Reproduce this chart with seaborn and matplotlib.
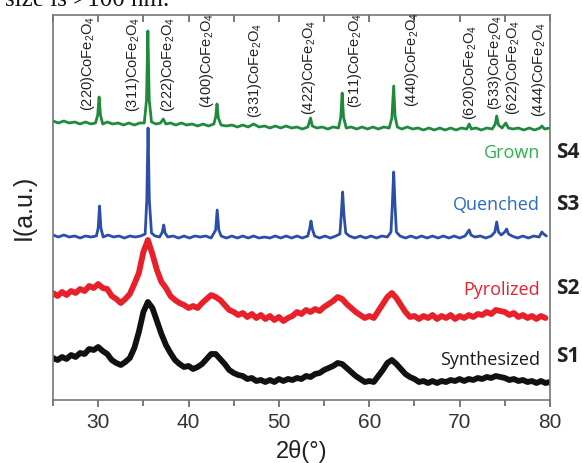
import numpy as np
import pandas as pd
import matplotlib
matplotlib.use("Agg")
import matplotlib.pyplot as plt
from matplotlib.ticker import MultipleLocator
import seaborn as sns

# ---------------- data (intensity in a.u., stacked) ----------------
step_x = np.arange(25.0, 80.01, 0.5)

synth_y = [42, 40, 43, 41, 45, 43, 47, 46, 51, 50, 53, 49, 46, 40, 37, 35, 38, 42, 52, 68,
           88, 98, 92, 79, 66, 55, 47, 40, 36, 33, 34, 31, 33, 36, 41, 46, 46, 41, 36, 30,
           27, 25, 24, 21, 22, 19, 20, 18, 20, 18, 21, 19, 21, 20, 22, 21, 24, 23, 26, 27,
           30, 32, 34, 37, 36, 32, 28, 24, 21, 18, 19, 18, 24, 30, 37, 40, 36, 31, 26, 23,
           21, 18, 19, 17, 19, 17, 19, 18, 20, 19, 21, 19, 21, 20, 22, 21, 23, 22, 24, 23,
           22, 20, 21, 19, 20, 18, 19, 17, 19, 17, 18]

pyro_y = [107, 104, 108, 105, 109, 107, 111, 109, 114, 112, 116, 112, 111, 104, 101, 97, 101, 106, 116, 127,
          148, 160, 146, 130, 118, 112, 104, 100, 97, 95, 92, 94, 92, 97, 101, 105, 103, 100, 95, 90,
          88, 85, 87, 83, 86, 82, 85, 81, 84, 80, 83, 79, 82, 84, 88, 86, 90, 88, 91, 89,
          93, 96, 99, 103, 101, 96, 92, 88, 85, 82, 84, 82, 89, 96, 103, 107, 102, 95, 88, 83,
          84, 81, 84, 82, 85, 81, 84, 82, 85, 81, 84, 82, 85, 83, 86, 85, 88, 86, 90, 89,
          88, 85, 87, 83, 85, 82, 84, 81, 84, 82]

quench_x = [25.0, 25.6, 26.2, 26.8, 27.4, 28.0, 28.6, 29.2, 29.8, 30.0, 30.15, 30.3, 30.55, 31.1, 31.7,
            32.3, 32.9, 33.5, 34.1, 34.7, 35.2, 35.38, 35.52, 35.66, 35.9, 36.3, 36.8, 37.1, 37.25, 37.4,
            37.7, 38.3, 38.9, 39.5, 40.1, 40.7, 41.3, 41.9, 42.5, 43.0, 43.17, 43.35, 43.6, 44.2, 44.8,
            45.4, 46.0, 46.6, 47.2, 47.8, 48.4, 49.0, 49.6, 50.2, 50.8, 51.4, 52.0, 52.6, 53.2, 53.42,
            53.55, 53.7, 53.95, 54.5, 55.1, 55.7, 56.3, 56.75, 56.9, 57.05, 57.2, 57.4, 57.8, 58.4, 59.0,
            59.6, 60.2, 60.8, 61.4, 62.0, 62.4, 62.55, 62.7, 62.85, 63.0, 63.4, 64.0, 64.6, 65.2, 65.8,
            66.4, 67.0, 67.6, 68.2, 68.8, 69.4, 70.0, 70.6, 70.9, 71.05, 71.25, 71.7, 72.3, 72.9, 73.5,
            73.9, 74.1, 74.3, 74.6, 75.0, 75.2, 75.4, 75.8, 76.4, 77.0, 77.6, 78.2, 78.8, 79.1, 79.3,
            79.6]
quench_y = [165, 163, 165, 163, 164, 162, 164, 163, 164, 172, 194, 172, 163, 165, 163,
            164, 162, 164, 163, 164, 166, 200, 272, 200, 167, 164, 163, 168, 175, 167,
            163, 164, 162, 164, 162, 164, 163, 164, 162, 170, 190, 170, 164, 162, 164,
            162, 164, 162, 164, 162, 163, 162, 164, 162, 164, 162, 164, 162, 164, 172,
            179, 171, 164, 162, 164, 162, 164, 166, 185, 208, 185, 167, 164, 162, 164,
            162, 164, 162, 164, 163, 168, 195, 228, 195, 168, 164, 162, 164, 162, 164,
            162, 164, 162, 164, 162, 164, 162, 164, 168, 170, 165, 163, 164, 162, 164,
            168, 178, 168, 165, 168, 171, 166, 164, 162, 164, 162, 164, 163, 168, 166,
            164]

grown_x = [25.0, 25.6, 26.2, 26.8, 27.4, 28.0, 28.6, 29.2, 29.7, 29.95, 30.1, 30.25, 30.5, 31.0, 31.6,
           32.2, 32.8, 33.4, 34.0, 34.6, 35.1, 35.35, 35.5, 35.65, 35.9, 36.4, 36.9, 37.2, 37.5, 38.0,
           38.6, 39.2, 39.8, 40.4, 41.0, 41.6, 42.2, 42.8, 43.0, 43.15, 43.3, 43.6, 44.2, 44.8, 45.4,
           46.0, 46.6, 47.2, 47.8, 48.4, 49.0, 49.6, 50.2, 50.8, 51.4, 52.0, 52.6, 53.2, 53.5, 53.7,
           54.2, 54.8, 55.4, 56.0, 56.6, 56.85, 57.0, 57.15, 57.45, 58.0, 58.6, 59.2, 59.8, 60.4, 61.0,
           61.6, 62.2, 62.5, 62.7, 62.85, 63.1, 63.6, 64.2, 64.8, 65.4, 66.0, 66.6, 67.2, 67.8, 68.4,
           69.0, 69.6, 70.2, 70.8, 71.05, 71.3, 71.8, 72.4, 73.0, 73.6, 73.95, 74.1, 74.3, 74.7, 75.1,
           75.4, 75.9, 76.5, 77.1, 77.7, 78.3, 78.9, 79.1, 79.4, 80.0]
grown_y = [279, 277, 279, 277, 278, 276, 278, 276, 277, 285, 303, 285, 276, 278, 276,
           277, 275, 277, 275, 277, 277, 300, 369, 300, 278, 276, 277, 281, 276, 277,
           275, 277, 275, 276, 274, 276, 274, 276, 283, 296, 282, 275, 274, 275, 273,
           275, 273, 276, 273, 274, 272, 274, 272, 274, 272, 273, 271, 273, 282, 274,
           272, 273, 271, 273, 272, 283, 307, 283, 272, 273, 271, 273, 271, 273, 271,
           273, 272, 282, 314, 284, 273, 271, 273, 271, 272, 270, 272, 270, 272, 270,
           272, 270, 272, 271, 276, 271, 272, 270, 272, 271, 276, 284, 275, 272, 277,
           272, 271, 272, 270, 272, 270, 272, 274, 271, 272]

peak_labels = ["(220)", "(311)", "(222)", "(400)", "(331)", "(422)",
               "(511)", "(440)", "(620)", "(533)", "(622)", "(444)"]
peak_label_x = [28.9, 33.85, 37.7, 42.0, 47.3, 53.3, 58.4, 64.7, 71.1, 73.9, 75.9, 78.8]
peak_label_y = [289, 288, 288, 292, 282, 285, 292, 293, 280, 290, 285, 283]

sample_names = ["Synthesized", "Pyrolized", "Quenched", "Grown"]
sample_codes = ["S1", "S2", "S3", "S4"]
name_y = [40, 110, 195, 247]
code_y = [43, 112, 195, 248]

line_colors = ["#111111", "#e8202a", "#2b4fa8", "#1f8a3c"]
text_colors = ["#1a1a1a", "#e8202a", "#2a6cc0", "#2fb04e"]

# ---------------- figure ----------------
sns.set_style("white")
plt.rcParams["font.family"] = ["Liberation Sans", "DejaVu Sans"]
plt.rcParams["mathtext.default"] = "regular"

fig = plt.figure(figsize=(5.82, 4.63), dpi=100)
ax = fig.add_axes([53 / 582, 1 - 400 / 463, 497 / 582, 385 / 463])

series = [
    (step_x, synth_y, 4.2),
    (step_x[:len(pyro_y)], pyro_y, 4.2),
    (np.array(quench_x), quench_y, 2.0),
    (np.array(grown_x), grown_y, 2.0),
]
for (xs, ys, lw), col in zip(series, line_colors):
    df = pd.DataFrame({"x": xs, "y": ys})
    sns.lineplot(data=df, x="x", y="y", ax=ax, color=col, lw=lw,
                 estimator=None, sort=False)

ax.set_xlim(25, 80)
ax.set_ylim(0, 385)
ax.set_yticks([])
ax.set_xticks([30, 40, 50, 60, 70, 80])
ax.xaxis.set_minor_locator(MultipleLocator(5))
ax.tick_params(axis="x", which="both", bottom=True, top=False, direction="out",
               colors="#555555", labelcolor="#333333", labelsize=15, pad=4)
ax.tick_params(axis="x", which="major", length=5, width=1.1)
ax.tick_params(axis="x", which="minor", length=4, width=1.1)

# top ticks pointing inwards
secax = ax.secondary_xaxis("top")
secax.xaxis.set_major_locator(MultipleLocator(5))
secax.tick_params(axis="x", direction="in", length=5, width=1.1,
                  colors="#555555", labeltop=False)
secax.set_xticklabels([])
secax.spines["top"].set_visible(False)

for s in ax.spines.values():
    s.set_color("#777777")
    s.set_linewidth(1.2)
    s.set_visible(True)

ax.set_xlabel("2θ(°)", fontsize=17, color="#222222")
ax.xaxis.set_label_coords(0.5, -0.105)
ax.set_ylabel("I(a.u.)", fontsize=18, color="#222222")
ax.yaxis.set_label_coords(-0.035, 0.5)

for lab, px, py in zip(peak_labels, peak_label_x, peak_label_y):
    ax.text(px, py, lab + "CoFe$_2$O$_4$", rotation=90, ha="center", va="bottom",
            fontsize=10.5, color="#222222")

for nm, ny, tc in zip(sample_names, name_y, text_colors):
    ax.text(78.9, ny, nm, ha="right", va="center", fontsize=13, color=tc,
            family=["Open Sans", "DejaVu Sans"])

for cd, cy in zip(sample_codes, code_y):
    ax.text(1.012, cy, cd, transform=ax.get_yaxis_transform(), ha="left", va="center",
            fontsize=15, fontweight="bold", color="#222222", clip_on=False,
            family=["Open Sans", "DejaVu Sans"])

fig.text(5 / 582, 1 - 6 / 463, "size is >100 nm.", ha="left", va="baseline",
         fontsize=18, family=["Liberation Serif", "DejaVu Serif"], color="#111111")

fig.savefig("out.png", dpi=100)
